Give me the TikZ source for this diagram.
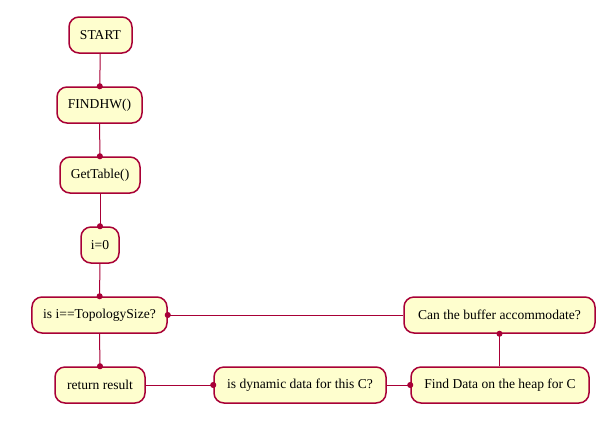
\documentclass[tikz,border=0pt]{standalone}
\usepackage{fontspec}
\setmainfont{Liberation Serif}
\usetikzlibrary{arrows.meta}
\definecolor{boxfill}{HTML}{FEFECE}
\definecolor{boxline}{HTML}{A80036}
\begin{document}
\begin{tikzpicture}[x=1bp,y=-1bp,
  act/.style={draw=boxline, fill=boxfill, line width=1.5bp, rounded corners=10bp,
    minimum height=36bp, inner sep=0pt, font=\fontsize{13.6}{16}\selectfont},
  conn/.style={draw=boxline, line width=1bp, shorten >=-3bp, -{Circle[length=6bp,width=6bp]}}]
\useasboundingbox (0,0) rectangle (600,420);
\node[act, minimum width=63bp] (start) at (100.5,35) {START};
\node[act, minimum width=85bp] (findhw) at (99.5,105) {FINDHW()};
\node[act, minimum width=80bp] (gettable) at (100,175) {GetTable()};
\node[act, minimum width=38bp] (izero) at (100,245) {i=0};
\node[act, minimum width=135bp] (isi) at (99.5,315) {is i==TopologySize?};
\node[act, minimum width=90bp] (ret) at (100,385) {return result};
\node[act, minimum width=172bp] (dyn) at (300,385) {is dynamic data for this C?};
\node[act, minimum width=178bp] (find) at (500,385) {Find Data on the heap for C};
\node[act, minimum width=191bp] (can) at (499.5,315) {Can the buffer accommodate?};
\draw[conn] (start) -- (findhw);
\draw[conn] (findhw) -- (gettable);
\draw[conn] (gettable) -- (izero);
\draw[conn] (izero) -- (isi);
\draw[conn] (isi.south) -- (ret.north);
\draw[conn] (ret) -- (dyn);
\draw[conn] (dyn) -- (find);
\draw[conn] (find.north -| can.south) -- (can.south);
\draw[conn] (can) -- (isi);
\end{tikzpicture}
\end{document}
